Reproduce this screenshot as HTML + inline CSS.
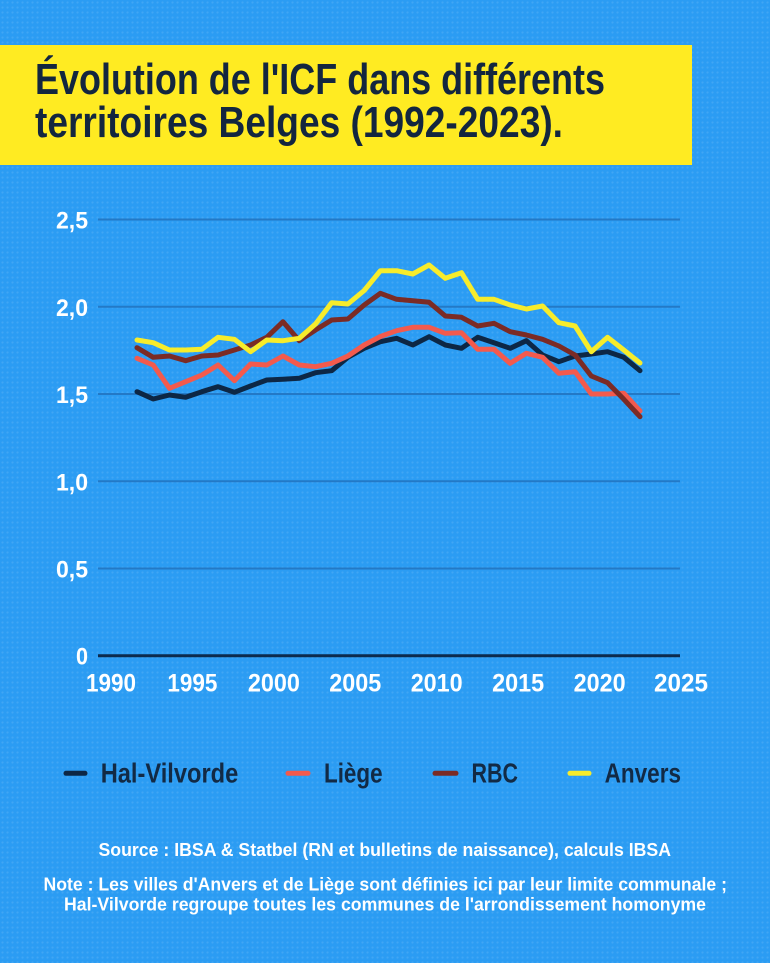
<!DOCTYPE html>
<html>
<head>
<meta charset="utf-8">
<style>
html,body{margin:0;padding:0;width:770px;height:963px;overflow:hidden;}
body{background-color:#2b9cf3;background-image:radial-gradient(circle, rgba(255,255,255,0.10) 0.9px, transparent 1.3px);background-size:5px 5px;}
svg{display:block;font-family:"Liberation Sans",sans-serif;font-weight:bold;}
</style>
</head>
<body>
<svg width="770" height="963" viewBox="0 0 770 963" xmlns="http://www.w3.org/2000/svg">
  <!-- title box -->
  <rect x="0" y="45" width="692" height="120" fill="#ffeb22"/>
  <text x="35" y="94" font-size="44" fill="#13263f" textLength="570" lengthAdjust="spacingAndGlyphs">Évolution de l'ICF dans différents</text>
  <text x="35" y="137" font-size="44" fill="#13263f" textLength="528" lengthAdjust="spacingAndGlyphs">territoires Belges (1992-2023).</text>

  <!-- gridlines -->
  <g stroke="#2379c6" stroke-width="2">
    <line x1="98" y1="219.5" x2="680" y2="219.5"/>
    <line x1="98" y1="306.8" x2="680" y2="306.8"/>
    <line x1="98" y1="394" x2="680" y2="394"/>
    <line x1="98" y1="481.3" x2="680" y2="481.3"/>
    <line x1="98" y1="568.5" x2="680" y2="568.5"/>
  </g>
  <line x1="98" y1="655.7" x2="680" y2="655.7" stroke="#0c2a4d" stroke-width="3"/>

  <!-- y labels -->
  <g fill="#ffffff" font-size="24" text-anchor="end">
    <text x="88" y="228.5" textLength="32" lengthAdjust="spacingAndGlyphs">2,5</text>
    <text x="88" y="315.8" textLength="32" lengthAdjust="spacingAndGlyphs">2,0</text>
    <text x="88" y="403" textLength="32" lengthAdjust="spacingAndGlyphs">1,5</text>
    <text x="88" y="490.3" textLength="32" lengthAdjust="spacingAndGlyphs">1,0</text>
    <text x="88" y="577.5" textLength="32" lengthAdjust="spacingAndGlyphs">0,5</text>
    <text x="88" y="664.7" textLength="12" lengthAdjust="spacingAndGlyphs">0</text>
  </g>

  <!-- x labels -->
  <g fill="#ffffff" font-size="25" text-anchor="middle">
    <text x="111" y="691.5" textLength="50" lengthAdjust="spacingAndGlyphs">1990</text>
    <text x="192.4" y="691.5" textLength="50" lengthAdjust="spacingAndGlyphs">1995</text>
    <text x="273.9" y="691.5" textLength="52" lengthAdjust="spacingAndGlyphs">2000</text>
    <text x="355.3" y="691.5" textLength="52" lengthAdjust="spacingAndGlyphs">2005</text>
    <text x="436.7" y="691.5" textLength="52" lengthAdjust="spacingAndGlyphs">2010</text>
    <text x="518.1" y="691.5" textLength="52" lengthAdjust="spacingAndGlyphs">2015</text>
    <text x="599.6" y="691.5" textLength="52" lengthAdjust="spacingAndGlyphs">2020</text>
    <text x="681" y="691.5" textLength="54" lengthAdjust="spacingAndGlyphs">2025</text>
  </g>

  <!-- series -->
  <g fill="none" stroke-width="5" stroke-linejoin="round" stroke-linecap="round">
    <polyline stroke="#0d2745" points="137,391.7 153.2,399 169.5,395 185.7,397.3 201.9,391.7 218.1,386.7 234.4,392.3 250.6,386 266.8,380 283,379.3 299.3,378.3 315.5,372.7 331.7,370.7 347.9,357.3 364.2,348.3 380.4,341.7 396.6,338.3 412.8,345 429.1,336.7 445.3,345 461.5,348.3 477.7,337.3 494,342.7 510.2,348.3 526.4,340.7 542.6,355 558.9,361.7 575.1,356 591.3,354 607.6,351.7 623.8,357.3 640,370.7"/>
    <polyline stroke="#f35a4d" points="137,358.3 153.2,365 169.5,388.3 185.7,381.7 201.9,375 218.1,365 234.4,380.7 250.6,364 266.8,365 283,356 299.3,365 315.5,366.7 331.7,363.3 347.9,356 364.2,345 380.4,336.5 396.6,330.7 412.8,327.3 429.1,327.3 445.3,333.3 461.5,332.7 477.7,349.3 494,349.3 510.2,363.3 526.4,353.3 542.6,357.3 558.9,373.3 575.1,371.7 591.3,394 607.6,394 623.8,393.3 640,411"/>
    <polyline stroke="#7b2b25" points="137,347.7 153.2,357.3 169.5,356 185.7,360.7 201.9,356 218.1,355 234.4,350 250.6,345 266.8,337.3 283,321.7 299.3,340.7 315.5,330 331.7,320 347.9,319 364.2,305 380.4,293.3 396.6,299.3 412.8,300.7 429.1,302.3 445.3,316 461.5,317.3 477.7,326 494,323.3 510.2,331.7 526.4,335 542.6,339.3 558.9,346 575.1,355 591.3,376 607.6,382.7 623.8,399.3 640,416.7"/>
    <polyline stroke="#f7ec2b" points="137,340 153.2,342.7 169.5,350 185.7,350 201.9,349.3 218.1,337.3 234.4,339.3 250.6,351.7 266.8,340 283,340.7 299.3,338.3 315.5,324 331.7,302.7 347.9,304 364.2,290.5 380.4,270.7 396.6,270.7 412.8,274 429.1,265 445.3,278.3 461.5,272.7 477.7,299.3 494,299.3 510.2,305 526.4,309 542.6,306 558.9,322.7 575.1,326 591.3,351.7 607.6,337.3 623.8,350 640,363"/>
  </g>

  <!-- legend -->
  <g stroke-width="5" stroke-linecap="round">
    <line x1="66" y1="773.3" x2="85" y2="773.3" stroke="#0d2745"/>
    <line x1="288" y1="773.3" x2="308" y2="773.3" stroke="#f35a4d"/>
    <line x1="435" y1="773.3" x2="456" y2="773.3" stroke="#7b2b25"/>
    <line x1="570" y1="773.3" x2="589" y2="773.3" stroke="#f7ec2b"/>
  </g>
  <g fill="#122a45" font-size="28">
    <text x="100.7" y="782.3" textLength="137.6" lengthAdjust="spacingAndGlyphs">Hal-Vilvorde</text>
    <text x="324" y="782.3" textLength="58.6" lengthAdjust="spacingAndGlyphs">Liège</text>
    <text x="471.5" y="782.3" textLength="46.5" lengthAdjust="spacingAndGlyphs">RBC</text>
    <text x="604.6" y="782.3" textLength="76.4" lengthAdjust="spacingAndGlyphs">Anvers</text>
  </g>

  <!-- source / notes -->
  <g fill="#ffffff" font-size="18">
    <text x="98.5" y="856" textLength="572.5" lengthAdjust="spacingAndGlyphs">Source : IBSA &amp; Statbel (RN et bulletins de naissance), calculs IBSA</text>
    <text x="43.5" y="890.5" textLength="683.5" lengthAdjust="spacingAndGlyphs">Note : Les villes d'Anvers et de Liège sont définies ici par leur limite communale ;</text>
    <text x="64" y="910.5" textLength="642" lengthAdjust="spacingAndGlyphs">Hal-Vilvorde regroupe toutes les communes de l'arrondissement homonyme</text>
  </g>
</svg>
</body>
</html>
